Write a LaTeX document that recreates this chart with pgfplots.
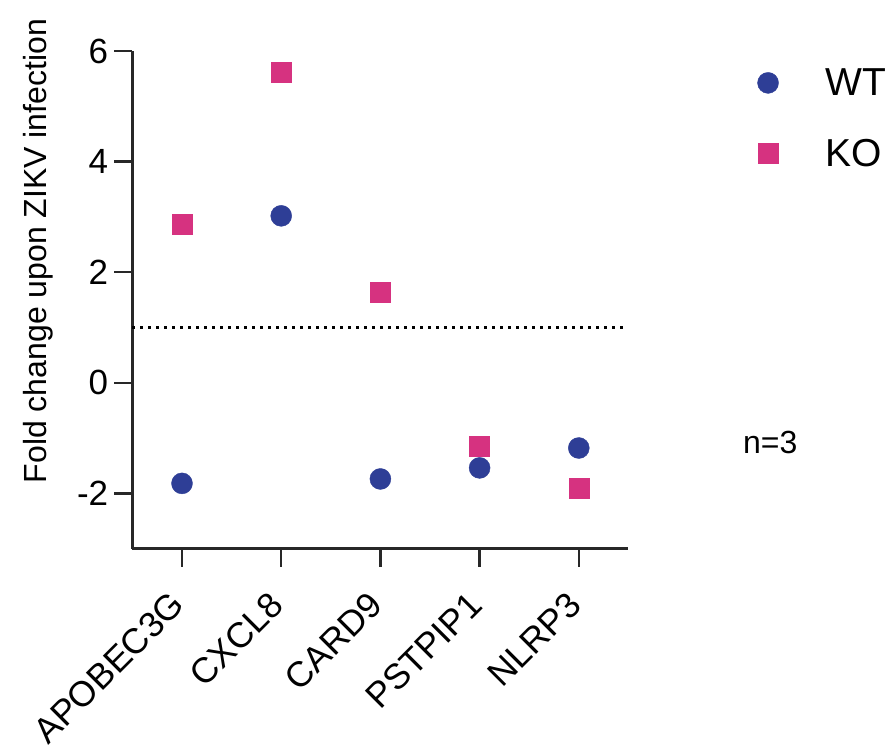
\documentclass[border=0pt]{standalone}
\usepackage{fontspec}
\setmainfont{Liberation Sans}
\usepackage{pgfplots}
\pgfplotsset{compat=1.18}
\definecolor{wtblue}{RGB}{46,62,150}
\definecolor{kopink}{RGB}{214,50,128}
\definecolor{axgray}{RGB}{40,40,40}
\begin{document}
\begin{tikzpicture}
\begin{axis}[
  at={(0,0)}, anchor=south west,
  scale only axis, width=496pt, height=497.5pt,
  xmin=-0.5, xmax=4.5, ymin=-3, ymax=6,
  axis x line*=bottom, axis y line*=left,
  axis line style={line width=2.5pt, color=axgray, -},
  every tick/.style={line width=2.5pt, color=axgray},
  tick align=outside, major tick length=18pt,
  xtick={0,1,2,3,4}, xticklabels={APOBEC3G,CXCL8,CARD9,PSTPIP1,NLRP3},
  ytick={-2,0,2,4,6},
  /pgf/number format/assume math mode=true,
  tick label style={color=black},
  xticklabel style={xshift=-4pt, yshift=2pt, rotate=45, anchor=east, inner sep=0pt, font=\fontsize{35.5}{40}\selectfont},
  yticklabel style={inner sep=0pt, font=\fontsize{35}{40}\selectfont},
  xticklabel shift=34pt,
  yticklabel shift=6pt,
  clip=false,
  legend style={draw=none, fill=none, at={(axis description cs:1.26,0.965)}, anchor=north west,
    font=\fontsize{39}{44}\selectfont, row sep=42pt, column sep=47pt, inner sep=0pt,
    nodes={inner sep=0pt}},
  legend cell align=left,
  legend image code/.code={\draw[#1] plot coordinates {(0pt,0pt)};},
]
\addplot[black, line width=3pt, dash pattern=on 3pt off 5pt, forget plot] coordinates {(-0.5,1) (4.45,1)};
\addplot[only marks, mark=*, mark size=10.5pt, color=wtblue, fill=wtblue] coordinates {
(0,-1.82) (1,3.02) (2,-1.74) (3,-1.54) (4,-1.18)};
\addlegendentry{WT}
\addplot[only marks, mark=square*, mark size=10pt, color=kopink, fill=kopink] coordinates {
(0,2.86) (1,5.62) (2,1.64) (3,-1.14) (4,-1.91)};
\addlegendentry{KO}
\node[rotate=90, font=\fontsize{32}{36}\selectfont] at (axis description cs:-0.189,0.598) {Fold change upon ZIKV infection};
\node[anchor=base west, inner sep=0pt, font=\fontsize{32}{36}\selectfont] at (axis description cs:1.231,0.192) {n=3};
\end{axis}
\pgfresetboundingbox
\path[use as bounding box] (-132.4pt,-199.4pt) rectangle (761.6pt,548.6pt);
\end{tikzpicture}
\end{document}
